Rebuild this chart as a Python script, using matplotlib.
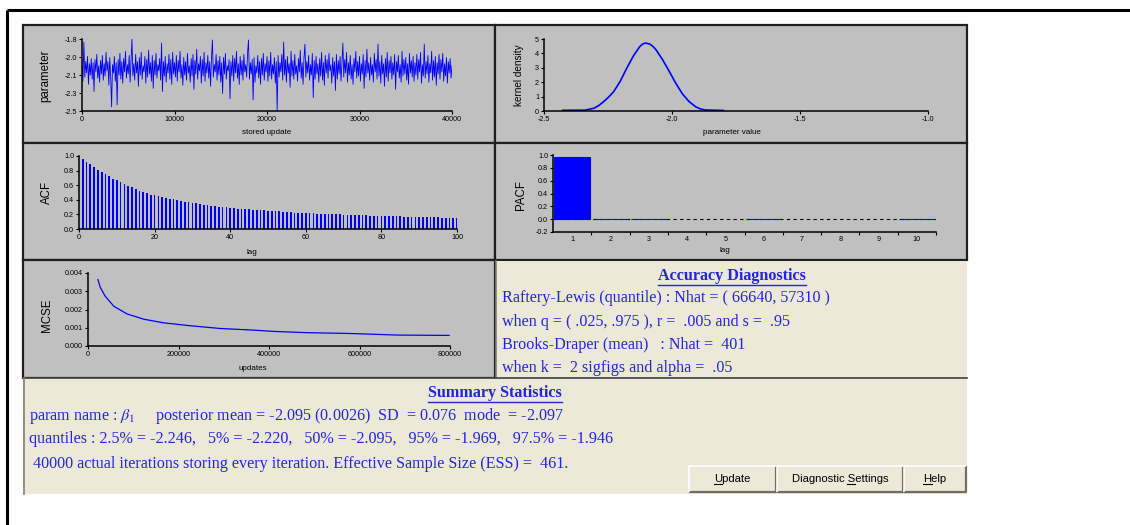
import numpy as np
import matplotlib.pyplot as plt
from matplotlib.patches import Rectangle

plt.rcParams['mathtext.fontset'] = 'stix'

W, H = 1130, 525
BLUE = '#0000ff'
TXT = '#2323e8'
GREY = '#c0c0c0'
BEIGE = '#ece9d8'

# stored chain, one value every 100 updates
trace_iter = np.arange(0, 40001, 100)
trace_vals = [
    -2.06, -2.21, -1.83, -2.17, -2.02, -2.13, -1.97, -2.24, -2.04, -2.15,
    -1.99, -2.19, -2.03, -2.31, -2.00, -2.12, -1.95, -2.18, -2.06, -2.22,
    -2.01, -2.14, -1.96, -2.20, -2.04, -2.16, -1.93, -2.11, -2.02, -2.25,
    -1.98, -2.17, -2.46, -2.05, -2.13, -1.97, -2.21, -2.03, -2.44, -2.00,
    -2.15, -1.94, -2.19, -2.02, -2.23, -1.99, -2.12, -1.92, -2.18, -2.05,
    -2.14, -1.96, -2.22, -2.01, -1.80, -2.16, -2.04, -2.20, -1.95, -2.13,
    -2.02, -2.26, -1.98, -2.15, -1.93, -2.19, -2.06, -2.12, -1.97, -2.23,
    -2.00, -2.17, -1.91, -2.14, -2.03, -2.21, -1.96, -2.28, -2.01, -2.15,
    -1.94, -2.18, -2.05, -2.11, -1.99, -2.20, -1.84, -2.31, -2.02, -2.16,
    -1.97, -2.22, -2.04, -2.13, -1.95, -2.19, -2.00, -2.24, -1.93, -2.14,
    -2.03, -2.17, -1.96, -2.21, -2.01, -2.12, -1.92, -2.18, -2.05, -2.25,
    -1.98, -2.15, -2.02, -2.20, -1.94, -2.13, -2.06, -2.22, -1.99, -2.16,
    -1.95, -2.29, -2.01, -2.14, -1.90, -2.19, -2.04, -2.11, -1.97, -2.23,
    -2.00, -2.16, -1.93, -2.21, -2.03, -2.13, -1.96, -2.18, -2.02, -2.26,
    -1.99, -1.81, -2.17, -2.05, -2.12, -1.95, -2.20, -2.01, -2.15, -1.97,
    -2.22, -2.03, -2.33, -1.98, -2.14, -1.94, -2.19, -2.06, -2.11, -2.00,
    -2.38, -2.02, -2.16, -1.96, -2.21, -1.99, -2.13, -1.92, -2.18, -2.04,
    -2.24, -1.97, -2.15, -2.01, -2.20, -1.95, -2.12, -2.05, -2.17, -1.93,
    -1.81, -2.19, -2.03, -2.14, -2.00, -2.39, -1.98, -2.22, -2.06, -2.13,
    -1.96, -2.18, -2.02, -2.24, -1.99, -2.15, -1.94, -2.20, -2.04, -2.12,
    -1.97, -2.21, -2.01, -2.16, -1.93, -2.19, -2.05, -2.14, -1.98, -2.23,
    -2.02, -2.50, -1.96, -2.17, -2.03, -2.12, -1.95, -2.20, -1.83, -2.15,
    -2.00, -2.22, -1.97, -2.13, -2.04, -2.27, -1.92, -2.16, -2.01, -2.19,
    -1.95, -2.14, -2.06, -2.21, -1.99, -2.12, -1.91, -2.18, -2.03, -2.24,
    -1.98, -1.85, -2.17, -2.02, -2.13, -1.96, -2.20, -2.05, -2.15, -1.94,
    -2.37, -2.01, -2.19, -1.97, -2.14, -2.04, -2.22, -1.99, -2.16, -1.93,
    -2.20, -2.03, -2.25, -1.96, -2.13, -2.00, -2.18, -1.94, -2.11, -2.05,
    -2.23, -1.98, -2.16, -2.02, -2.30, -1.95, -2.19, -2.01, -2.14, -1.97,
    -2.21, -2.04, -1.84, -2.17, -2.00, -2.13, -1.93, -2.22, -2.03, -2.15,
    -1.96, -2.19, -2.05, -2.24, -1.99, -2.12, -1.92, -2.18, -2.02, -2.16,
    -1.97, -2.21, -2.04, -2.14, -1.95, -2.28, -2.01, -2.17, -1.90, -2.13,
    -2.03, -2.20, -1.98, -2.15, -2.05, -2.22, -1.94, -2.12, -2.00, -2.19,
    -1.85, -2.16, -2.02, -2.23, -1.96, -2.14, -2.04, -2.26, -1.99, -2.17,
    -1.93, -2.21, -2.01, -2.13, -1.97, -2.19, -2.03, -2.15, -1.95, -2.29,
    -2.02, -2.12, -1.96, -2.18, -2.05, -2.22, -1.92, -2.16, -2.00, -2.14,
    -1.98, -2.20, -2.04, -2.24, -1.94, -2.13, -2.01, -2.17, -1.97, -2.21,
    -2.03, -2.15, -1.95, -2.19, -2.00, -2.12, -1.93, -2.23, -2.05, -2.16,
    -1.85, -2.18, -2.02, -2.14, -1.96, -2.22, -2.04, -2.13, -1.92, -2.20,
    -2.01, -2.17, -1.97, -2.25, -2.03, -2.14, -1.95, -2.19, -2.00, -2.12,
    -1.94, -2.21, -2.04, -2.16, -1.98, -2.23, -2.02, -2.13, -1.99, -2.18,
    -2.06,
]

# kernel density of the parameter
dens_x = [-2.427, -2.34, -2.305, -2.286, -2.267, -2.248, -2.228, -2.203, -2.177,
          -2.151, -2.126, -2.114, -2.103, -2.087, -2.074, -2.062, -2.036, -2.010,
          -1.985, -1.959, -1.933, -1.908, -1.889, -1.869, -1.80]
dens_y = [0.05, 0.06, 0.19, 0.38, 0.65, 0.96, 1.34, 2.04, 2.96,
          3.82, 4.47, 4.66, 4.72, 4.65, 4.48, 4.24, 3.54, 2.73,
          1.92, 1.18, 0.65, 0.30, 0.14, 0.07, 0.04]

acf_lags = np.arange(1, 101)
acf_vals = [
    0.955, 0.92, 0.89, 0.855, 0.81, 0.78, 0.75, 0.72, 0.685, 0.665,
    0.64, 0.61, 0.59, 0.575, 0.545, 0.525, 0.51, 0.50, 0.47, 0.46,
    0.45, 0.445, 0.43, 0.415, 0.405, 0.40, 0.385, 0.37, 0.365, 0.355,
    0.35, 0.345, 0.335, 0.33, 0.32, 0.315, 0.305, 0.30, 0.295, 0.29,
    0.285, 0.28, 0.28, 0.275, 0.27, 0.265, 0.265, 0.26, 0.255, 0.25,
    0.25, 0.245, 0.24, 0.235, 0.235, 0.23, 0.225, 0.22, 0.22, 0.215,
    0.215, 0.215, 0.21, 0.21, 0.205, 0.205, 0.20, 0.20, 0.20, 0.195,
    0.19, 0.19, 0.19, 0.185, 0.185, 0.185, 0.18, 0.18, 0.18, 0.18,
    0.18, 0.175, 0.175, 0.175, 0.175, 0.17, 0.17, 0.17, 0.165, 0.165,
    0.165, 0.165, 0.16, 0.16, 0.16, 0.155, 0.155, 0.155, 0.155, 0.15,
]

pacf_lags = np.arange(1, 11)
pacf_vals = [0.963, 0.01, 0.01, 0.0, 0.0, 0.01, 0.0, 0.0, 0.0, 0.01]

mcse_updates = [22000, 27000, 38000, 57000, 86000, 123000, 167000, 218000, 292000,
                366000, 410000, 483000, 572000, 623000, 682000, 798000]
mcse_vals = [0.00364, 0.00322, 0.00273, 0.00218, 0.00176, 0.00147, 0.00127, 0.00113,
             0.00096, 0.00087, 0.00080, 0.00073, 0.00069, 0.00065, 0.00060, 0.00058]

# summary numbers
post_mean, mean_mcse, post_sd, post_mode = -2.095, 0.0026, 0.076, -2.097
q_probs = ['2.5%', '5%', '50%', '95%', '97.5%']
q_vals = [-2.246, -2.220, -2.095, -1.969, -1.946]
n_iter, ess = 40000, 461
rl_nhat = (66640, 57310)
bd_nhat = 401

fig = plt.figure(figsize=(W / 100, H / 100), dpi=100)
fig.patch.set_facecolor('white')
bg = fig.add_axes([0, 0, 1, 1])
bg.set_xlim(0, W)
bg.set_ylim(H, 0)
bg.axis('off')

# outer window frame
bg.plot([7, W], [10, 10], color='black', lw=2.2, solid_capstyle='butt')
bg.plot([7, 7], [10, H], color='black', lw=2.2, solid_capstyle='butt')

# panels
for (x0, y0, x1, y1) in [(23, 25, 495, 143), (495, 25, 967, 143), (23, 143, 495, 260),
                         (495, 143, 967, 260), (23, 260, 495, 378)]:
    bg.add_patch(Rectangle((x0, y0), x1 - x0, y1 - y0, facecolor=GREY,
                           edgecolor='#202020', lw=1.6))
bg.add_patch(Rectangle((496, 261), 471, 117, facecolor=BEIGE, edgecolor='none'))
bg.plot([496, 496], [261, 378], color='#808080', lw=1.2)
bg.add_patch(Rectangle((23, 378), 944, 116, facecolor=BEIGE, edgecolor='none'))
bg.plot([23, 967], [378, 378], color='#404040', lw=1.2)
bg.plot([23.5, 23.5], [378, 494], color='#808080', lw=1.2)


def plot_axes(x0, y0, x1, y1):
    ax = fig.add_axes([x0 / W, 1 - y1 / H, (x1 - x0) / W, (y1 - y0) / H])
    ax.patch.set_alpha(0)
    for s in ['top', 'right']:
        ax.spines[s].set_visible(False)
    for s in ['left', 'bottom']:
        ax.spines[s].set_linewidth(1.1)
    ax.tick_params(labelsize=5.2, length=2.5, width=0.8, pad=1)
    for lab in ax.get_xticklabels() + ax.get_yticklabels():
        lab.set_family('Liberation Sans')
    return ax


def label(x, y, s, size=6, rot=0):
    bg.text(x, y, s, fontsize=size, rotation=rot, ha='center', va='center',
            family='Liberation Sans', color='black')


# trace
ax = plot_axes(82, 39, 452, 111)
ax.plot(trace_iter, trace_vals, color=BLUE, lw=0.6)
ax.set_xlim(0, 40000)
ax.set_ylim(-2.5, -1.8)
ax.set_xticks([0, 10000, 20000, 30000, 40000])
ax.set_yticks([-1.8, -1.975, -2.15, -2.325, -2.5])
ax.set_yticklabels(['-1.8', '-2.0', '-2.1', '-2.3', '-2.5'], family='Liberation Sans')
label(45, 76, 'parameter', 8.3, 90)
label(267, 132, 'stored update', 5.8)

# kernel density
ax = plot_axes(544, 39, 928, 111)
ax.plot(dens_x, dens_y, color=BLUE, lw=1.2)
ax.set_xlim(-2.5, -1.0)
ax.set_ylim(0, 5)
ax.set_xticks([-2.5, -2.0, -1.5, -1.0])
ax.set_xticklabels(['-2.5', '-2.0', '-1.5', '-1.0'], family='Liberation Sans')
ax.set_yticks(range(6))
label(519, 75, 'kernel density', 7.2, 90)
label(732, 133, 'parameter value', 5.8)

# ACF
ax = plot_axes(79, 156, 457, 229)
ax.bar(acf_lags, acf_vals, width=0.45, color=BLUE, lw=0)
ax.set_xlim(0, 100)
ax.set_ylim(0, 1.0)
ax.set_xticks(range(0, 101, 20))
ax.set_yticks(np.arange(0, 1.01, 0.2))
ax.set_yticklabels(['0.0', '0.2', '0.4', '0.6', '0.8', '1.0'], family='Liberation Sans')
label(47, 192, 'ACF', 8.3, 90)
label(252, 252, 'lag', 5.8)

# PACF: outline only the nonzero bars so the thin ones stay visible
ax = plot_axes(553, 155, 936, 232)
ax.axhline(0, color='black', lw=0.8, ls=(0, (3, 3)))
ax.bar(pacf_lags, pacf_vals, width=0.93, color=BLUE,
       edgecolor=[BLUE if v > 0 else 'none' for v in pacf_vals], lw=0.8, zorder=3)
ax.set_xlim(0.5, 10.5)
ax.set_ylim(-0.2, 1.0)
ax.set_xticks(pacf_lags)
ax.set_xticks(np.arange(1.5, 10.6, 1), minor=True)
ax.tick_params(axis='x', which='major', length=0, pad=3)
ax.tick_params(axis='x', which='minor', length=2.5, width=0.8)
ax.set_yticks(np.arange(-0.2, 1.01, 0.2))
ax.set_yticklabels(['-0.2', '0.0', '0.2', '0.4', '0.6', '0.8', '1.0'], family='Liberation Sans')
label(521, 195, 'PACF', 8.3, 90)
label(725, 251, 'lag', 5.8)

# MCSE
ax = plot_axes(88, 273, 450, 346)
ax.plot(mcse_updates, mcse_vals, color=BLUE, lw=0.9)
ax.set_xlim(0, 800000)
ax.set_ylim(0, 0.004)
ax.set_xticks(range(0, 800001, 200000))
ax.set_yticks(np.arange(0, 0.0041, 0.001))
ax.set_yticklabels(['0.000', '0.001', '0.002', '0.003', '0.004'], family='Liberation Sans')
label(47, 315, 'MCSE', 8.3, 90)
label(253, 368, 'updates', 5.8)

serif = dict(family='Liberation Serif', color=TXT, fontsize=11.6, va='center')

t_acc = bg.text(732, 276, 'Accuracy Diagnostics', ha='center', fontweight='bold', **serif)
acc_lines = [
    f'Raftery-Lewis (quantile) : Nhat = ( {rl_nhat[0]}, {rl_nhat[1]} )',
    'when q = ( .025, .975 ), r =  .005 and s =  .95',
    f'Brooks-Draper (mean)   : Nhat =  {bd_nhat}',
    'when k =  2 sigfigs and alpha =  .05',
]
for y, s in zip([298, 322, 345, 368], acc_lines):
    bg.text(502, y, s, ha='left', **serif)

t_sum = bg.text(495, 393, 'Summary Statistics', ha='center', fontweight='bold', **serif)
line1 = (r'param name : $\beta_1$     posterior mean = '
         f'{post_mean:.3f} ({mean_mcse:.4f})  SD  = {post_sd:.3f}  mode  = {post_mode:.3f}')
line2 = 'quantiles : ' + ',   '.join(f'{p} = {v:.3f}' for p, v in zip(q_probs, q_vals))
line3 = (f' {n_iter} actual iterations storing every iteration. '
         f'Effective Sample Size (ESS) =  {ess}.')
bg.text(29, 416, line1, ha='left', **serif)
bg.text(29, 439, line2, ha='left', **serif)
bg.text(29, 464, line3, ha='left', **serif)

# buttons
buttons = [('Update', 0, 689, 776), ('Diagnostic Settings', 11, 777, 903), ('Help', 0, 904, 966)]
btn_text = []
for name, k, x0, x1 in buttons:
    y0, y1 = 466, 492
    bg.add_patch(Rectangle((x0, y0), x1 - x0, y1 - y0, facecolor=BEIGE, edgecolor='none'))
    bg.plot([x0, x1, x1], [y1, y1, y0], color='#716f64', lw=1.6, solid_capstyle='butt')
    bg.plot([x0, x0, x1], [y1, y0, y0], color='white', lw=1.2, solid_capstyle='butt')
    t = bg.text((x0 + x1) / 2, (y0 + y1) / 2 + 0.5, name, ha='center', va='center',
                fontsize=8.1, family='Liberation Sans', color='black')
    btn_text.append((t, name, k))

# underlines for titles and button accelerators
fig.canvas.draw()
r = fig.canvas.get_renderer()
for t in [t_acc, t_sum]:
    bb = t.get_window_extent(r)
    yb = H - bb.y0 + 0.5
    bg.plot([bb.x0, bb.x1], [yb, yb], color=TXT, lw=1.0)
for t, name, k in btn_text:
    bb = t.get_window_extent(r)
    pre = bg.text(0, 0, name[:k], fontsize=8.1, family='Liberation Sans')
    ch = bg.text(0, 0, name[k], fontsize=8.1, family='Liberation Sans')
    w_pre = pre.get_window_extent(r).width if k else 0
    w_ch = ch.get_window_extent(r).width
    pre.remove()
    ch.remove()
    yb = H - bb.y0 - 1
    bg.plot([bb.x0 + w_pre, bb.x0 + w_pre + w_ch], [yb, yb], color='black', lw=0.8)

fig.savefig('out.png', dpi=100)
